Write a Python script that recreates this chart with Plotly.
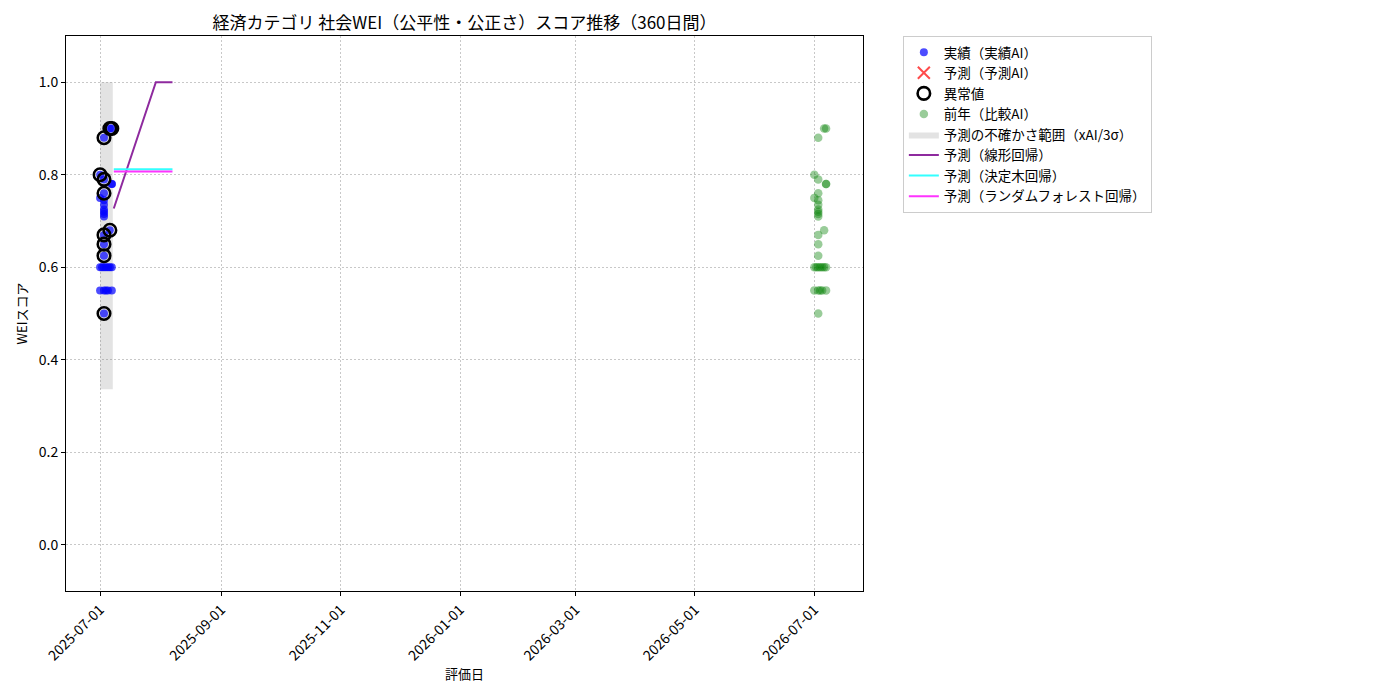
import plotly.graph_objects as go

FONT = "Noto Sans CJK JP"

# 実績（実績AI）
actual_dates = [
    "2025-07-01", "2025-07-01", "2025-07-01", "2025-07-01",
    "2025-07-02",
    "2025-07-03", "2025-07-03", "2025-07-03", "2025-07-03", "2025-07-03",
    "2025-07-03", "2025-07-03", "2025-07-03", "2025-07-03", "2025-07-03",
    "2025-07-03", "2025-07-03", "2025-07-03", "2025-07-03", "2025-07-03",
    "2025-07-04", "2025-07-04",
    "2025-07-05", "2025-07-05",
    "2025-07-06", "2025-07-06", "2025-07-06",
    "2025-07-07", "2025-07-07", "2025-07-07", "2025-07-07", "2025-07-07",
]
actual_values = [
    0.80, 0.75, 0.60, 0.55,
    0.60,
    0.88, 0.79, 0.76, 0.745, 0.735,
    0.725, 0.72, 0.715, 0.71, 0.67,
    0.65, 0.625, 0.60, 0.55, 0.50,
    0.60, 0.55,
    0.60, 0.55,
    0.68, 0.90, 0.60,
    0.90, 0.78, 0.78, 0.60, 0.55,
]

# 異常値
anomaly_dates = [
    "2025-07-01", "2025-07-03", "2025-07-03", "2025-07-03", "2025-07-03",
    "2025-07-03", "2025-07-03", "2025-07-03", "2025-07-06", "2025-07-06",
    "2025-07-07",
]
anomaly_values = [0.80, 0.88, 0.79, 0.76, 0.67, 0.65, 0.625, 0.50, 0.68, 0.90, 0.90]

# 前年（比較AI）
prev_dates = [
    "2026-07-01", "2026-07-01", "2026-07-01", "2026-07-01",
    "2026-07-02",
    "2026-07-03", "2026-07-03", "2026-07-03", "2026-07-03", "2026-07-03",
    "2026-07-03", "2026-07-03", "2026-07-03", "2026-07-03", "2026-07-03",
    "2026-07-03", "2026-07-03", "2026-07-03", "2026-07-03", "2026-07-03",
    "2026-07-04", "2026-07-04",
    "2026-07-05", "2026-07-05",
    "2026-07-06", "2026-07-06", "2026-07-06",
    "2026-07-07", "2026-07-07", "2026-07-07", "2026-07-07", "2026-07-07",
]
prev_values = [
    0.80, 0.75, 0.60, 0.55,
    0.60,
    0.88, 0.79, 0.76, 0.745, 0.735,
    0.725, 0.72, 0.715, 0.71, 0.67,
    0.65, 0.625, 0.60, 0.55, 0.50,
    0.60, 0.55,
    0.60, 0.55,
    0.68, 0.90, 0.60,
    0.90, 0.78, 0.78, 0.60, 0.55,
]

# 予測の不確かさ範囲
band_dates = ["2025-07-01", "2025-07-07 12:00"]
band_lower = [0.336, 0.336]
band_upper = [1.0, 1.0]

# 予測ライン
linear_dates = ["2025-07-08", "2025-07-29 12:00", "2025-08-07"]
linear_values = [0.727, 1.0, 1.0]
tree_dates = ["2025-07-08", "2025-08-07"]
tree_values = [0.812, 0.812]
forest_dates = ["2025-07-08", "2025-08-07"]
forest_values = [0.807, 0.807]

xtick_vals = ["2025-07-01", "2025-09-01", "2025-11-01", "2026-01-01",
              "2026-03-01", "2026-05-01", "2026-07-01"]
ytick_vals = [0.0, 0.2, 0.4, 0.6, 0.8, 1.0]

fig = go.Figure()

# band (behind everything)
fig.add_trace(go.Scatter(x=band_dates, y=band_lower, mode="lines",
                         line=dict(width=0), showlegend=False, hoverinfo="skip"))
fig.add_trace(go.Scatter(x=band_dates, y=band_upper, mode="lines",
                         line=dict(width=0), fill="tonexty",
                         fillcolor="rgba(128,128,128,0.22)",
                         name="予測の不確かさ範囲（xAI/3σ）", legendrank=5))

fig.add_trace(go.Scatter(x=linear_dates, y=linear_values, mode="lines",
                         line=dict(color="#8e2a9e", width=2),
                         name="予測（線形回帰）", legendrank=6))
fig.add_trace(go.Scatter(x=tree_dates, y=tree_values, mode="lines",
                         line=dict(color="#33ffff", width=2),
                         name="予測（決定木回帰）", legendrank=7))
fig.add_trace(go.Scatter(x=forest_dates, y=forest_values, mode="lines",
                         line=dict(color="#ff33ff", width=2),
                         name="予測（ランダムフォレスト回帰）", legendrank=8))

fig.add_trace(go.Scatter(x=actual_dates, y=actual_values, mode="markers",
                         marker=dict(color="blue", size=8, opacity=0.7),
                         name="実績（実績AI）", legendrank=1))
fig.add_trace(go.Scatter(x=[None], y=[None], mode="markers",
                         marker=dict(symbol="x-thin", size=12, opacity=0.7,
                                     line=dict(color="red", width=2)),
                         name="予測（予測AI）", legendrank=2))
fig.add_trace(go.Scatter(x=anomaly_dates, y=anomaly_values, mode="markers",
                         marker=dict(symbol="circle-open", size=12.5, color="black",
                                     line=dict(color="black", width=2.6)),
                         name="異常値", legendrank=3))
fig.add_trace(go.Scatter(x=prev_dates, y=prev_values, mode="markers",
                         marker=dict(color="green", size=8.5, opacity=0.4),
                         name="前年（比較AI）", legendrank=4))

fig.update_layout(
    width=1400, height=700,
    margin=dict(l=58, r=545, t=28, b=117),
    paper_bgcolor="white", plot_bgcolor="white",
    font=dict(family=FONT, size=12, color="black"),
    title=dict(text="経済カテゴリ 社会WEI（公平性・公正さ）スコア推移（360日間）",
               x=0.5, xref="paper", xanchor="center", y=0.979, yanchor="middle",
               font=dict(size=17)),
    legend=dict(x=1.05, y=1.0, xanchor="left", yanchor="top",
                traceorder="normal",
                bordercolor="#cccccc", borderwidth=1, font=dict(size=13.5),
                tracegroupgap=0),
)

fig.update_xaxes(
    range=["2025-06-13 14:00", "2026-07-25 21:00"],
    tickvals=xtick_vals, tickformat="%Y-%m-%d", tickangle=-45,
    ticks="outside", ticklen=4, tickcolor="black",
    showgrid=True, gridcolor="#c8c8c8", griddash="1.5px,2.5px", gridwidth=0.8,
    showline=True, linecolor="black", linewidth=1, mirror=True,
    zeroline=False, tickfont=dict(size=14),
    title=dict(text="評価日", font=dict(size=13), standoff=4),
)
fig.update_yaxes(
    range=[-0.1, 1.1], tickvals=ytick_vals, tickformat=".1f",
    ticks="outside", ticklen=4, tickcolor="black",
    showgrid=True, gridcolor="#c8c8c8", griddash="1.5px,2.5px", gridwidth=0.8,
    showline=True, linecolor="black", linewidth=1, mirror=True,
    zeroline=False, tickfont=dict(size=14),
    title=dict(text="WEIスコア", font=dict(size=13), standoff=8),
)

fig.write_html("out.html")
